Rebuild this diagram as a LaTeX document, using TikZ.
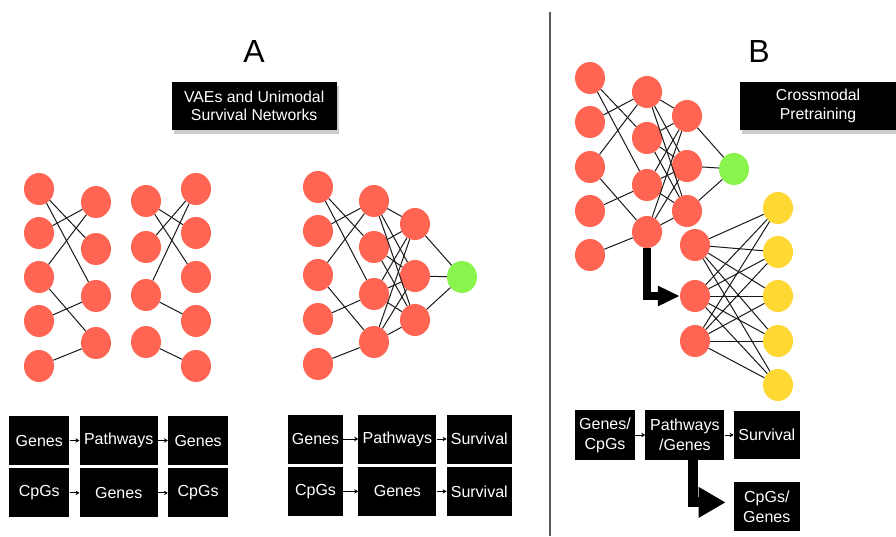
\documentclass[tikz,border=0pt]{standalone}
\usepackage{fontspec}
\setmainfont{Liberation Sans}
\usepackage{xcolor}
\usepackage{tikz}
\usetikzlibrary{shapes.geometric, positioning, arrows.meta, shadows}

\definecolor{unitred}{RGB}{255,101,82}
\definecolor{unitgreen}{RGB}{136,244,76}
\definecolor{unityellow}{RGB}{255,216,52}

\begin{document}
\begin{tikzpicture}[
        x=1pt, y=-1pt,
        node distance=3pt and 10pt,
        unit/.style={ellipse, minimum width=30pt, minimum height=32pt, inner sep=0pt, fill=unitred},
        box/.style={rectangle, fill=black, text=white, minimum height=49pt, inner sep=0pt, align=center, font=\fontsize{16}{20}\selectfont},
        title/.style={box, minimum width=165pt, minimum height=48pt, font=\fontsize{15.8}{18.5}\selectfont, drop shadow={shadow xshift=2pt, shadow yshift=-4pt, opacity=0.4}},
        link/.style={black!90, line width=1pt},
        arr/.style={-{Stealth[length=4pt, width=4.5pt]}, line width=1pt},
        bigarr/.style={-{Triangle[length=22pt, width=19pt]}, line width=8pt}
    ]
    \useasboundingbox (0,0) rectangle (896,536);

    % Panel A: VAE pair
    \foreach \y [count=\i] in {189,233,277,321,366} {
        \node[unit] (a\i) at (39,\y) {};
        \node[unit] (d\i) at (196,\y) {};
    }
    \foreach \y [count=\i] in {202,249,296,343} \node[unit] (b\i) at (96,\y) {};
    \foreach \y [count=\i] in {201,247,295,342} \node[unit] (c\i) at (146,\y) {};
    \foreach \s/\t in {1/3,1/2,2/1,3/1,3/4,4/3,5/4} \draw[link] (a\s) -- (b\t);
    \foreach \s/\t in {1/2,1/3,2/1,3/1,3/4,4/5} \draw[link] (c\s) -- (d\t);

    % Panel A: survival network
    \foreach \y [count=\i] in {187,231,275,319,364} \node[unit] (e\i) at (318,\y) {};
    \foreach \y [count=\i] in {201,247,294,342} \node[unit] (f\i) at (374,\y) {};
    \foreach \y [count=\i] in {224,276,320} \node[unit] (g\i) at (415,\y) {};
    \node[unit, fill=unitgreen] (sa) at (462,277) {};
    \foreach \s/\t in {1/3,1/2,2/1,3/1,3/4,4/3,5/4} \draw[link] (e\s) -- (f\t);
    \foreach \s in {1,...,4} \foreach \t in {1,2,3} \draw[link] (f\s) -- (g\t);
    \foreach \s in {1,2,3} \draw[link] (g\s) -- (sa);

    % Panel B: crossmodal network
    \foreach \y [count=\i] in {78,122,167,211,255} \node[unit] (p\i) at (590,\y) {};
    \foreach \y [count=\i] in {92,138,185,232} \node[unit] (q\i) at (647,\y) {};
    \foreach \y [count=\i] in {116,166,211} \node[unit] (r\i) at (687,\y) {};
    \node[unit, fill=unitgreen] (sb) at (734,169) {};
    \foreach \y [count=\i] in {245,296,341} \node[unit] (u\i) at (695,\y) {};
    \foreach \y [count=\i] in {208,252,296,341,385} \node[unit, fill=unityellow] (v\i) at (778,\y) {};
    \foreach \s/\t in {1/3,1/2,2/1,3/1,3/4,4/3,5/4} \draw[link] (p\s) -- (q\t);
    \foreach \s in {1,...,4} \foreach \t in {1,2,3} \draw[link] (q\s) -- (r\t);
    \foreach \s in {1,2,3} \draw[link] (r\s) -- (sb);
    \foreach \s in {1,2,3} \foreach \t in {1,...,5} \draw[link] (u\s) -- (v\t);
    \draw[bigarr] (q4.south) |- (u2.west);

    % Headers
    \node[font=\fontsize{32}{32}\selectfont] (la) at (254,51) {A};
    \node[font=\fontsize{32}{32}\selectfont] (lb) at (759,51) {B};
    \node[title] (ha) at (254.2,105.9) {VAEs and Unimodal\\Survival Networks};
    \node[title, minimum width=156pt] (hb) at (818,105.9) {Crossmodal\\Pretraining};

    % Panel A: VAE boxes
    \node[box, minimum width=60pt] (ga) at (39.3,440.5) {Genes};
    \node[box, minimum width=78pt, right=of ga] (pa) {Pathways};
    \node[box, minimum width=60pt, right=of pa] (go) {Genes};
    \node[box, minimum width=60pt, below=of ga] (ca) {CpGs};
    \node[box, minimum width=78pt, right=of ca] (gm) {Genes};
    \node[box, minimum width=60pt, right=of gm] (co) {CpGs};
    \draw[arr] (ga) -- (pa); \draw[arr] (pa) -- (go);
    \draw[arr] (ca) -- (gm); \draw[arr] (gm) -- (co);

    % Panel A: survival boxes
    \node[box, minimum width=55pt] (gb) at (315.5,439) {Genes};
    \node[box, minimum width=78pt, right=15pt of gb] (pb) {Pathways};
    \node[box, minimum width=65pt, right=of pb] (sv1) {Survival};
    \node[box, minimum width=55pt, below=of gb] (cb) {CpGs};
    \node[box, minimum width=78pt, right=15pt of cb] (gn) {Genes};
    \node[box, minimum width=65pt, right=of gn] (sv2) {Survival};
    \draw[arr] (gb) -- (pb); \draw[arr] (pb) -- (sv1);
    \draw[arr] (cb) -- (gn); \draw[arr] (gn) -- (sv2);

    % Panel B: boxes
    \node[box, minimum width=60pt, minimum height=50pt] (gc) at (605,435) {Genes/\\CpGs};
    \node[box, minimum width=79pt, minimum height=50pt, right=of gc] (pg) {Pathways\\/Genes};
    \node[box, minimum width=66pt, minimum height=48pt, right=9pt of pg] (sv3) {Survival};
    \node[box, minimum width=66pt, below=23pt of sv3] (cg) {CpGs/\\Genes};
    \draw[arr] (gc) -- (pg); \draw[arr] (pg) -- (sv3);
    \coordinate (cgin) at ([xshift=-8pt, yshift=4.5pt]cg.west);
    \draw[bigarr, line width=10pt, -{Triangle[length=27pt, width=29pt]}] ([xshift=8.5pt]pg.south) |- (cgin);

    % divider
    \draw[black!65, line width=1.3pt] (550,12) -- (550,536);
\end{tikzpicture}
\end{document}
